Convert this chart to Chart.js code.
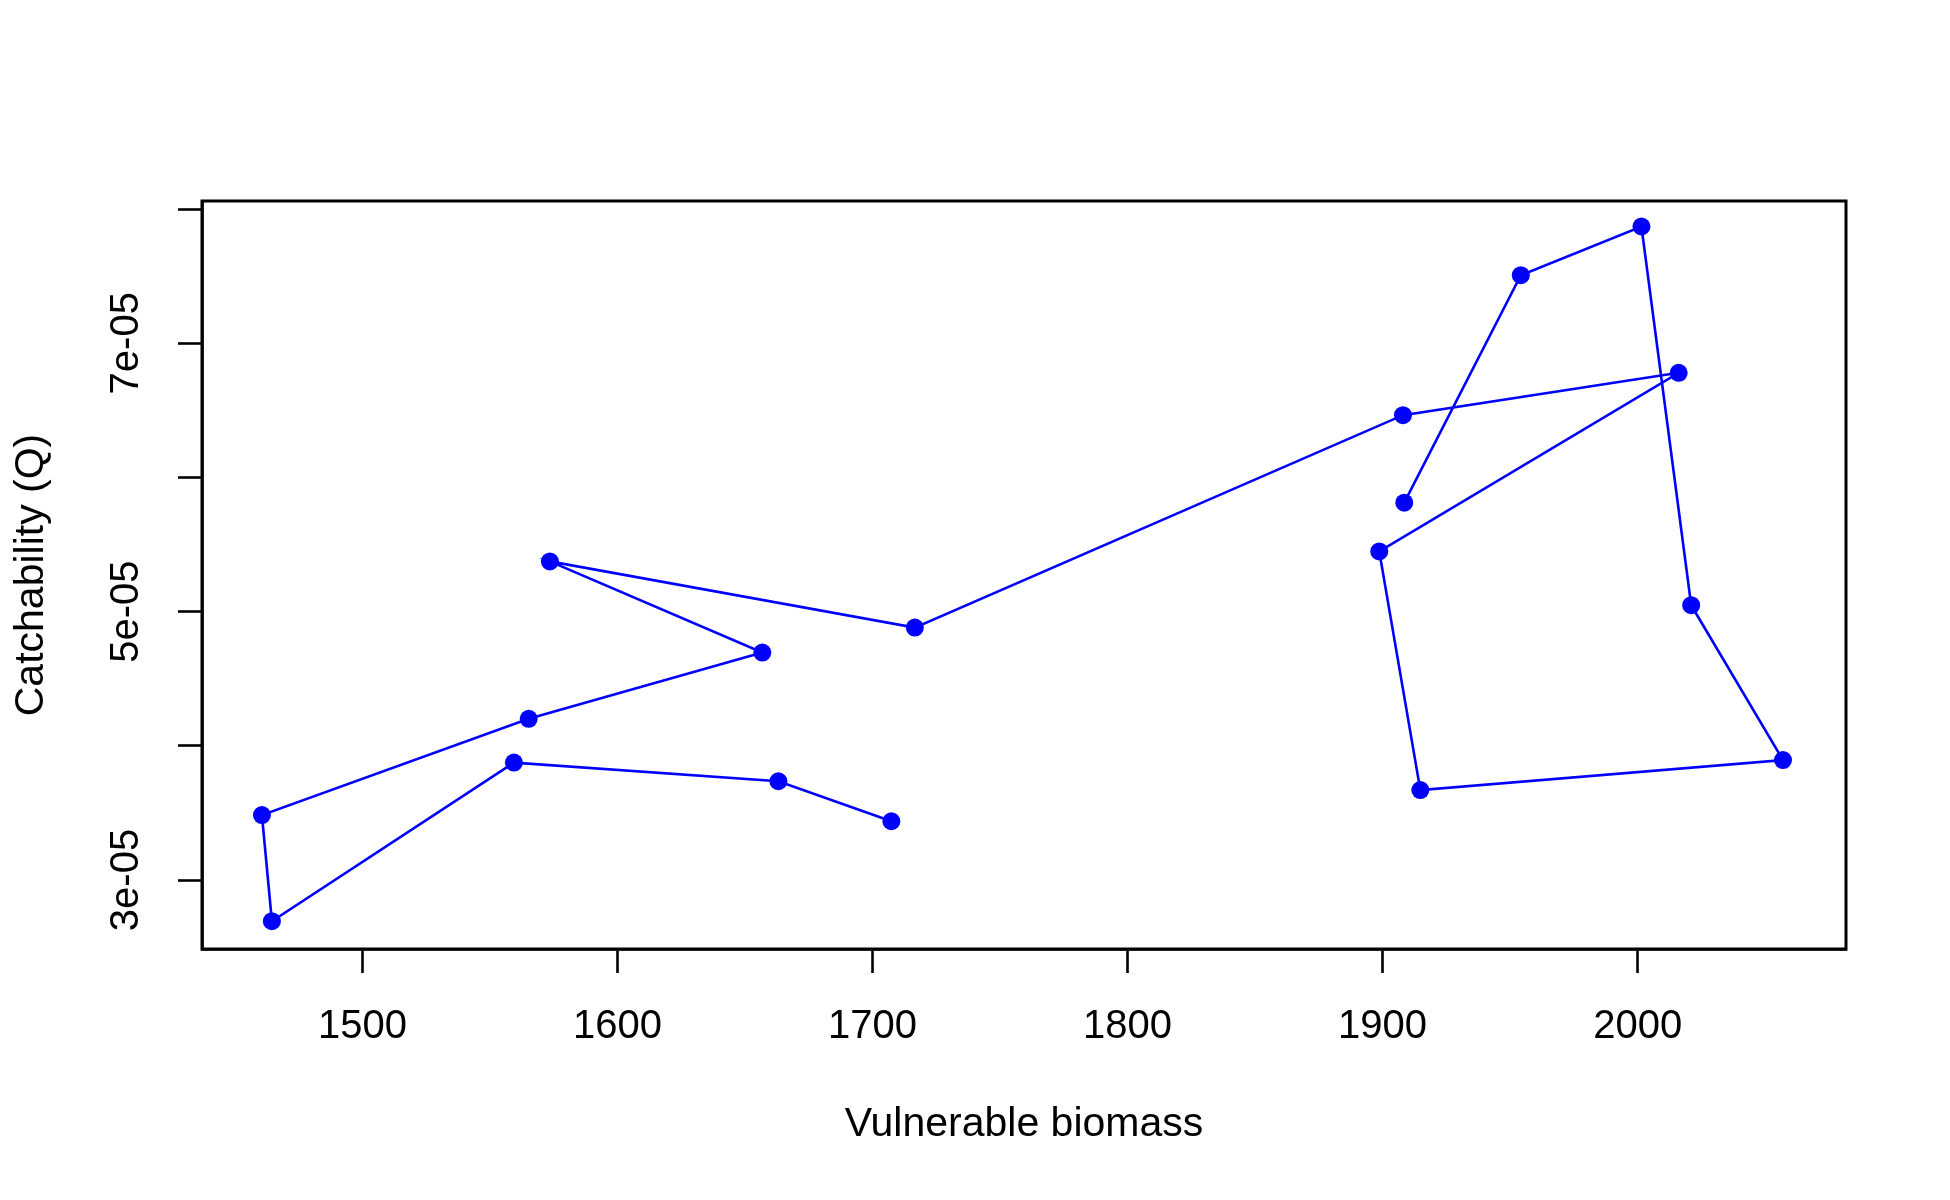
<!DOCTYPE html>
<html>
<head>
<meta charset="utf-8">
<script src="https://cdn.jsdelivr.net/npm/chart.js@4/dist/chart.umd.min.js"></script>
<style>
  html, body { margin: 0; padding: 0; background: #fff; }
  #wrap { width: 1950px; height: 1200px; }
</style>
</head>
<body>
<div id="wrap"><canvas id="qChart" width="1950" height="1200"></canvas></div>
<script>
// vulnerable biomass vs catchability, in path order
const biomass = [1707.4, 1663.1, 1559.4, 1464.5, 1460.6, 1565.2, 1656.8, 1573.5, 1716.6,
                 1908.0, 2016.1, 1898.7, 1914.8, 2057.0, 2021.0, 2001.5, 1954.2, 1908.5];
const catchability = [3.438e-5, 3.736e-5, 3.875e-5, 2.693e-5, 3.484e-5, 4.201e-5, 4.695e-5, 5.374e-5, 4.881e-5,
                      6.464e-5, 6.780e-5, 5.449e-5, 3.670e-5, 3.894e-5, 5.048e-5, 7.870e-5, 7.507e-5, 5.812e-5];

const xTicks = [1500, 1600, 1700, 1800, 1900, 2000];
const yTicks = [3e-5, 4e-5, 5e-5, 6e-5, 7e-5, 8e-5];
const yTickLabels = ['3e-05', '', '5e-05', '', '7e-05', ''];

const font = 'Liberation Sans, Arial, sans-serif';

// R-style box around the plot region
const boxPlugin = {
    id: 'box',
    afterDraw(chart) {
        const a = chart.chartArea;
        const ctx = chart.ctx;
        ctx.save();
        ctx.strokeStyle = '#000';
        ctx.lineWidth = 3;
        ctx.strokeRect(a.left, a.top, a.right - a.left, a.bottom - a.top);
        ctx.restore();
    }
};

new Chart(document.getElementById('qChart'), {
    type: 'scatter',
    data: {
        datasets: [{
            data: biomass.map((x, i) => ({ x: x, y: catchability[i] })),
            showLine: true,
            borderColor: '#0000ff',
            borderWidth: 2.6,
            pointRadius: 9,
            pointHoverRadius: 9,
            pointBackgroundColor: '#0000ff',
            pointBorderWidth: 0,
            tension: 0
        }]
    },
    options: {
        responsive: false,
        animation: false,
        devicePixelRatio: 1,
        layout: { padding: { top: 201, right: 104, left: 0, bottom: 0 } },
        plugins: { legend: { display: false }, tooltip: { enabled: false } },
        scales: {
            x: {
                type: 'linear',
                min: 1437.1,
                max: 2081.7,
                afterBuildTicks: s => { s.ticks = xTicks.map(v => ({ value: v })); },
                afterFit: s => { s.height = 251; },
                border: { display: true, color: '#000', width: 2.8 },
                grid: { drawOnChartArea: false, drawTicks: true, tickLength: 24, tickColor: '#000', tickWidth: 2.6 },
                ticks: {
                    autoSkip: false,
                    maxRotation: 0,
                    padding: 34,
                    color: '#000',
                    font: { family: font, size: 40, lineHeight: 1 },
                    callback: v => String(v)
                },
                title: {
                    display: true,
                    text: 'Vulnerable biomass',
                    color: '#000',
                    font: { family: font, size: 41, lineHeight: 1 },
                    padding: { top: 0, bottom: 55 }
                }
            },
            y: {
                type: 'linear',
                min: 2.486e-5,
                max: 8.06e-5,
                afterBuildTicks: s => { s.ticks = yTicks.map(v => ({ value: v })); },
                afterFit: s => { s.width = 202; },
                border: { display: true, color: '#000', width: 2.8 },
                grid: { drawOnChartArea: false, drawTicks: true, tickLength: 24, tickColor: '#000', tickWidth: 2.6 },
                ticks: {
                    autoSkip: false,
                    minRotation: 90,
                    maxRotation: 90,
                    crossAlign: 'center',
                    padding: 0,
                    color: '#000',
                    font: { family: font, size: 40, lineHeight: 1 },
                    callback: (v, i) => yTickLabels[i]
                },
                title: {
                    display: true,
                    text: 'Catchability (Q)',
                    color: '#000',
                    font: { family: font, size: 41, lineHeight: 1 },
                    padding: { top: 11, bottom: 0 }
                }
            }
        }
    },
    plugins: [boxPlugin]
});
</script>
</body>
</html>
